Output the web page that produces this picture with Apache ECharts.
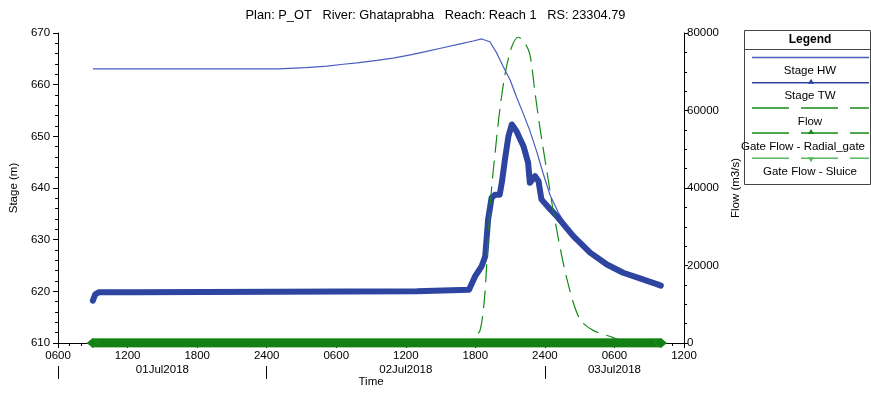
<!DOCTYPE html>
<html>
<head>
<meta charset="utf-8">
<script src="https://cdn.jsdelivr.net/npm/echarts@6/dist/echarts.min.js"></script>
<style>
  html, body { margin: 0; padding: 0; background: #fff; }
  #chart { width: 871px; height: 393px; }
</style>
</head>
<body>
<div id="chart"></div>
<script>
// Time is expressed in hours from 01Jul2018 0000.
const xTicks = [6, 12, 18, 24, 30, 36, 42, 48, 54, 60];
const dayBreaks = [6, 24, 48];
const dayCentres = [15, 36, 54];
const dayLabels = ['01Jul2018', '02Jul2018', '03Jul2018'];

// Stage HW (m)
const hwHours = [9, 25, 27.4, 29.2, 30.6, 31.8, 33.5, 34.9, 36.4, 37.8, 39.2, 40.7, 41.8, 42.55,
  43.25, 43.85, 44.4, 45.0, 45.55, 46.15, 46.7, 47.3, 47.85, 48.45, 49.15, 49.6, 50.45, 51.9,
  53.35, 54.75, 56.2, 57.65, 58.0];
const hwStage = [663.05, 663.05, 663.3, 663.6, 663.95, 664.2, 664.7, 665.15, 665.75, 666.45, 667.15,
  667.9, 668.45, 668.85, 668.3, 666.1, 663.5, 660.9, 657.6, 654.3, 651.1, 647.0, 642.8, 638.6,
  635.3, 633.6, 631.0, 627.8, 625.5, 623.9, 622.8, 621.7, 621.4];

// Stage TW (m)
const twHours = [9, 9.2, 9.5, 12.45, 12.5, 36.95, 37.0, 41.45, 42.0, 42.55, 42.85, 43.1, 43.4, 43.7,
  44.1, 44.3, 44.55, 44.85, 45.15, 45.55, 46.15, 46.55, 46.7, 47.15, 47.45, 47.7, 48.45, 49.0,
  50.45, 51.9, 53.35, 54.75, 56.2, 57.65, 58.0];
const twStage = [618.2, 619.4, 619.8, 619.8, 620.0, 620.0, 620.3, 620.3, 623.0, 624.9, 626.8, 633.9,
  638.1, 638.7, 638.7, 641.3, 645.5, 650.0, 652.3, 651.0, 648.1, 644.9, 641.0, 642.3, 641.3, 637.8,
  635.9, 634.6, 630.7, 627.5, 625.2, 623.6, 622.5, 621.4, 621.1];

// Flow (m3/s)
const flowHours = [9, 41.5, 41.85, 42.4, 42.8, 43.1, 43.4, 43.7, 44.1, 44.6, 45.15, 45.7, 46.2, 46.7,
  47.15, 47.6, 48.15, 48.85, 49.9, 51.0, 52.2, 53.9, 55.0];
const flowValues = [0, 0, 1500, 3200, 12000, 27000, 40000, 49000, 60000, 70000, 76500, 78900, 77800,
  74500, 64500, 55000, 44700, 31900, 16500, 6200, 3200, 1400, 0];

// Gate flows (m3/s)
const gateHours = [9, 58];
const radialGateFlow = [0, 0];
const sluiceFlow = [0, 0];

const FONT = '"Liberation Sans", Arial, sans-serif';
const C_HW = '#4a5cc0';
const C_TW = '#2d44a0';
const C_FLOW = '#168a16';
const C_RADIAL = '#128012';
const C_SLUICE = '#5cb85c';

const zip = (xs, ys) => xs.map((x, i) => [x, ys[i]]);

function hhmm(v) {
  const r = v % 24;
  const n = (r === 0 && v > 0) ? 2400 : r * 100;
  return String(n).padStart(4, '0');
}

const chart = echarts.init(document.getElementById('chart'), null, { renderer: 'canvas' });

// Legend panel: each entry shows its line sample above the series name.
const legendItems = [
  { name: 'Stage HW', color: C_HW, dash: null, marker: null },
  { name: 'Stage TW', color: C_TW, dash: null, marker: 'up' },
  { name: 'Flow', color: C_FLOW, dash: [37, 12], marker: null },
  { name: 'Gate Flow - Radial_gate', color: C_FLOW, dash: [37, 12], marker: 'up' },
  { name: 'Gate Flow - Sluice', color: C_SLUICE, dash: [37, 12], marker: 'down' }
];
const box = { x: 744, y: 30, w: 126, h: 154 };
const legendFont = '11.5px ' + FONT;
const measureCtx = document.createElement('canvas').getContext('2d');
measureCtx.font = legendFont;

const legendGraphics = [
  { type: 'rect', shape: { x: box.x + 0.5, y: box.y + 0.5, width: box.w, height: box.h },
    style: { fill: '#fff', stroke: '#444', lineWidth: 1 } },
  { type: 'line', shape: { x1: box.x, y1: box.y + 19.5, x2: box.x + box.w, y2: box.y + 19.5 },
    style: { stroke: '#444', lineWidth: 1 } },
  { type: 'text', x: 810, y: box.y + 10,
    style: { text: 'Legend', font: 'bold 12px ' + FONT, fill: '#000', align: 'center', verticalAlign: 'middle' } }
];
legendItems.forEach((it, i) => {
  const ly = 57.5 + i * 25.2;
  const cx = 811;
  legendGraphics.push({
    type: 'line', shape: { x1: 752, y1: ly, x2: 869, y2: ly },
    style: { stroke: it.color, lineWidth: 1.5, lineDash: it.dash || null }
  });
  if (it.marker === 'up') {
    legendGraphics.push({ type: 'polygon', shape: { points: [[cx - 3, ly + 1], [cx + 3, ly + 1], [cx, ly - 4]] },
      style: { fill: it.color } });
  } else if (it.marker === 'down') {
    legendGraphics.push({ type: 'polygon', shape: { points: [[cx - 3, ly - 1], [cx + 3, ly - 1], [cx, ly + 4]] },
      style: { fill: it.color } });
  }
  // Labels too wide for the panel start at its left edge.
  const w = measureCtx.measureText(it.name).width;
  let tx = 810, align = 'center';
  if (w > box.w - 6) { tx = box.x - 3; align = 'left'; }
  legendGraphics.push({
    type: 'text', x: tx, y: ly + 13.5,
    style: { text: it.name, font: legendFont, fill: '#000', align: align, verticalAlign: 'middle' }
  });
});

const axisBase = { color: '#000', fontFamily: FONT, fontSize: 11.5 };

const option = {
  animation: false,
  backgroundColor: '#fff',
  title: {
    text: 'Plan: P_OT   River: Ghataprabha   Reach: Reach 1   RS: 23304.79',
    left: 'center', top: 4,
    textStyle: { fontFamily: FONT, fontSize: 12.8, fontWeight: 'normal', color: '#000' }
  },
  grid: { left: 58, right: 187, top: 33, bottom: 49, containLabel: false },
  xAxis: [
    {
      type: 'value', min: 6, max: 60, interval: 6,
      name: 'Time', nameLocation: 'middle', nameGap: 33,
      nameTextStyle: axisBase,
      axisLine: { lineStyle: { color: '#000', width: 1 } },
      axisTick: { length: 5, lineStyle: { color: '#000' } },
      minorTick: { show: true, splitNumber: 6, length: 3, lineStyle: { color: '#000' } },
      axisLabel: Object.assign({ margin: 7, formatter: hhmm }, axisBase),
      splitLine: { show: false }
    },
    {
      type: 'value', min: 6, max: 60, position: 'bottom', offset: 23, gridIndex: 0,
      axisLine: { show: false },
      axisTick: { show: true, customValues: dayBreaks, length: 13, inside: false, lineStyle: { color: '#000' } },
      axisLabel: { show: false },
      splitLine: { show: false }
    },
    {
      type: 'value', min: 6, max: 60, position: 'bottom', offset: 20, gridIndex: 0,
      axisLine: { show: false },
      axisTick: { show: false },
      axisLabel: Object.assign({
        customValues: dayCentres, margin: 1,
        formatter: v => dayLabels[dayCentres.indexOf(v)] || ''
      }, axisBase),
      splitLine: { show: false }
    }
  ],
  yAxis: [
    {
      type: 'value', min: 610, max: 670, interval: 10, position: 'left',
      name: 'Stage (m)', nameLocation: 'middle', nameGap: 36, nameRotate: 90,
      nameTextStyle: axisBase,
      axisLine: { show: true, lineStyle: { color: '#000' } },
      axisTick: { show: true, length: 5, lineStyle: { color: '#000' } },
      minorTick: { show: true, splitNumber: 5, length: 3, lineStyle: { color: '#000' } },
      axisLabel: Object.assign({ margin: 8 }, axisBase),
      splitLine: { show: false }
    },
    {
      type: 'value', min: 0, max: 80000, interval: 20000, position: 'right',
      name: 'Flow (m3/s)', nameLocation: 'middle', nameGap: 44, nameRotate: 90,
      nameTextStyle: axisBase,
      axisLine: { show: true, lineStyle: { color: '#000' } },
      axisTick: { show: true, length: 4, lineStyle: { color: '#000' } },
      minorTick: { show: true, splitNumber: 4, length: 3, lineStyle: { color: '#000' } },
      axisLabel: Object.assign({ margin: 3, formatter: v => String(v) }, axisBase),
      splitLine: { show: false }
    }
  ],
  series: [
    {
      name: 'Stage HW', type: 'line', xAxisIndex: 0, yAxisIndex: 0,
      data: zip(hwHours, hwStage), showSymbol: false,
      lineStyle: { color: C_HW, width: 1.2 }
    },
    {
      name: 'Stage TW', type: 'line', xAxisIndex: 0, yAxisIndex: 0,
      data: zip(twHours, twStage), showSymbol: false,
      lineStyle: { color: C_TW, width: 6, join: 'round', cap: 'round' }
    },
    {
      name: 'Flow', type: 'line', xAxisIndex: 0, yAxisIndex: 1,
      data: zip(flowHours, flowValues), showSymbol: false, smooth: 0.3,
      lineStyle: { color: C_FLOW, width: 1.2, type: [18, 8] }
    },
    {
      name: 'Gate Flow - Sluice', type: 'line', xAxisIndex: 0, yAxisIndex: 1,
      data: zip(gateHours, sluiceFlow), showSymbol: true, symbol: 'diamond', symbolSize: [12, 10],
      itemStyle: { color: C_SLUICE },
      lineStyle: { color: C_SLUICE, width: 9 }
    },
    {
      name: 'Gate Flow - Radial_gate', type: 'line', xAxisIndex: 0, yAxisIndex: 1,
      data: zip(gateHours, radialGateFlow), showSymbol: true, symbol: 'diamond', symbolSize: [12, 10],
      itemStyle: { color: C_RADIAL },
      lineStyle: { color: C_RADIAL, width: 9 }
    }
  ],
  graphic: legendGraphics
};

chart.setOption(option);
</script>
</body>
</html>
